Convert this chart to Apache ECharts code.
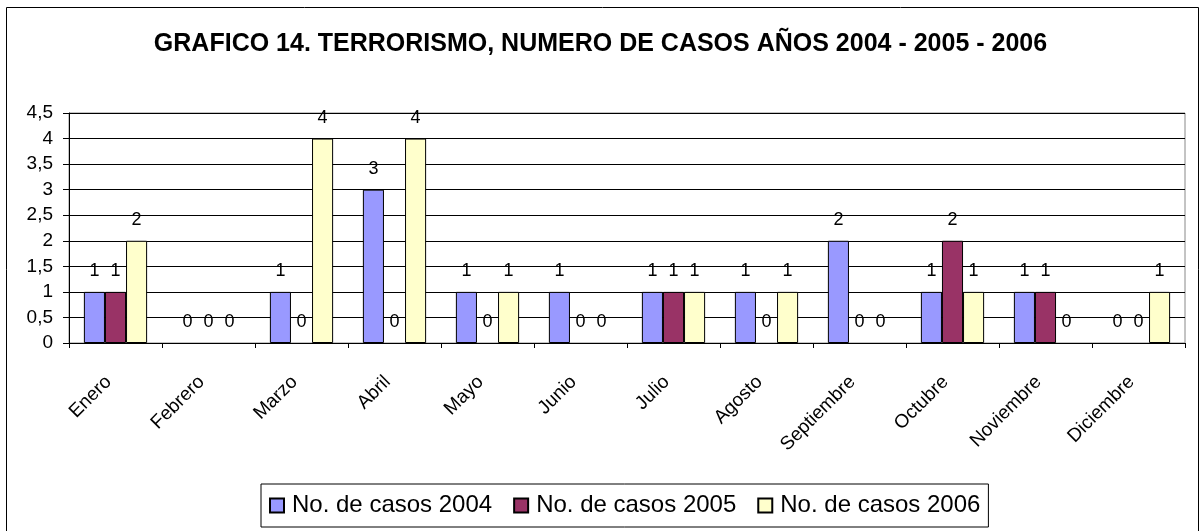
<!DOCTYPE html>
<html>
<head>
<meta charset="utf-8">
<title>Terrorismo 2004 - 2006</title>
<script src="https://cdn.jsdelivr.net/npm/echarts@6/dist/echarts.min.js"></script>
<style>
  html, body { margin: 0; padding: 0; background: #fff; }
  #chart { width: 1201px; height: 531px; }
</style>
</head>
<body>
<div id="chart"></div>
<script>
// datos
const meses = ["Enero", "Febrero", "Marzo", "Abril", "Mayo", "Junio", "Julio",
  "Agosto", "Septiembre", "Octubre", "Noviembre", "Diciembre"];
const casos2004 = [1, 0, 1, 3, 1, 1, 1, 1, 2, 1, 1, 0];
const casos2005 = [1, 0, 0, 0, 0, 0, 1, 0, 0, 2, 1, 0];
const casos2006 = [2, 0, 4, 4, 1, 0, 1, 1, 0, 1, 0, 1];
const nombres = ["No. de casos 2004", "No. de casos 2005", "No. de casos 2006"];
const colores = ["#9999FF", "#993366", "#FFFFCC"];

const font = "Arial, 'Liberation Sans', sans-serif";

const chart = echarts.init(document.getElementById("chart"));

function serie(i, data) {
  return {
    name: nombres[i],
    type: "bar",
    // las barras en cero no llevan borde
    data: data.map(v => v === 0 ? { value: v, itemStyle: { borderWidth: 0 } } : v),
    barGap: "0%",
    barCategoryGap: "32%",
    itemStyle: { color: colores[i], borderColor: "#000", borderWidth: 1 },
    label: {
      show: true,
      position: "top",
      distance: 12,
      color: "#000",
      fontFamily: font,
      fontSize: 18
    },
    animation: false
  };
}

chart.setOption({
  animation: false,
  title: {
    text: "GRAFICO 14. TERRORISMO, NUMERO DE CASOS AÑOS 2004 - 2005 - 2006",
    left: "center",
    top: 27,
    textStyle: { fontFamily: font, fontSize: 25, fontWeight: "bold", color: "#000" }
  },
  graphic: [
    {
      type: "rect",
      shape: { x: 6.5, y: 7.5, width: 1192, height: 540 },
      style: { fill: "none", stroke: "#000", lineWidth: 1 },
      silent: true
    }
  ],
  legend: {
    left: 261,
    top: 484,
    data: nombres,
    itemWidth: 14,
    itemHeight: 14,
    itemGap: 21,
    padding: [8, 8],
    borderColor: "#000",
    borderWidth: 1,
    icon: "rect",
    textStyle: {
      fontFamily: font, fontSize: 24, color: "#000", lineHeight: 27,
      padding: [0, 0, 0, 3]
    }
  },
  grid: {
    left: 69,
    right: 16,
    top: 113,
    bottom: 188,
    show: true,
    borderColor: "#888",
    borderWidth: 1
  },
  xAxis: {
    type: "category",
    data: meses,
    axisLine: { lineStyle: { color: "#000", width: 1 } },
    axisTick: { show: true, length: 5, lineStyle: { color: "#000" } },
    axisLabel: {
      rotate: 45,
      margin: 29,
      padding: [0, 10, 0, 0],
      interval: 0,
      color: "#000",
      fontFamily: font,
      fontSize: 19
    }
  },
  yAxis: {
    type: "value",
    min: 0,
    max: 4.5,
    interval: 0.5,
    axisLine: { show: true, lineStyle: { color: "#000", width: 1 } },
    axisTick: { show: true, length: 6, lineStyle: { color: "#000" } },
    splitLine: { lineStyle: { color: "#000", width: 1 } },
    axisLabel: {
      margin: 16,
      color: "#000",
      fontFamily: font,
      fontSize: 19,
      formatter: v => String(v).replace(".", ",")
    }
  },
  series: [
    serie(0, casos2004),
    serie(1, casos2005),
    serie(2, casos2006)
  ]
});
</script>
</body>
</html>
